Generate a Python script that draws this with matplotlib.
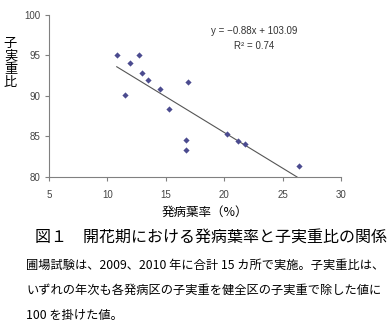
import matplotlib
matplotlib.use('Agg')
import matplotlib.pyplot as plt
import numpy as np

# 発病葉率 (%) and 子実重比
leaf_rate = [10.8, 11.5, 11.9, 12.7, 13.0, 13.5, 14.5, 15.3, 16.7, 16.7, 16.9, 20.2, 21.2, 21.8, 26.4]
yield_ratio = [95.0, 90.1, 94.0, 95.0, 92.8, 92.0, 90.9, 88.4, 84.6, 83.3, 91.7, 85.3, 84.4, 84.1, 81.4]
slope, intercept, r2 = -0.88, 103.09, 0.74

x_ticks = [5, 10, 15, 20, 25, 30]
y_ticks = [80, 85, 90, 95, 100]

jp = ['Noto Sans CJK JP', 'DejaVu Sans']
plt.rcParams['font.family'] = ['Liberation Sans', 'DejaVu Sans']

fig = plt.figure(figsize=(3.91, 3.31), dpi=100)
ax = fig.add_axes([49 / 391, 1 - 177 / 331, 292 / 391, 162.3 / 331])

ax.scatter(leaf_rate, yield_ratio, marker='D', s=10, color='#4b4b8f', zorder=3, linewidths=0)

x_end = (80 - intercept) / slope
xs = np.array([min(leaf_rate), x_end])
ax.plot(xs, slope * xs + intercept, color='#555555', lw=0.8)

ax.set_xlim(5, 30)
ax.set_ylim(80, 100)
ax.set_xticks(x_ticks)
ax.set_yticks(y_ticks)
for s in ['top', 'right']:
    ax.spines[s].set_visible(False)
for s in ['left', 'bottom']:
    ax.spines[s].set_color('#808080')
    ax.spines[s].set_linewidth(0.8)
ax.tick_params(colors='#808080', labelcolor='#444444', labelsize=7, length=3, width=0.8)
ax.tick_params(axis='x', pad=6)

ax.text(22.6, 98.0, 'y = \u22120.88x + 103.09', ha='center', va='center', fontsize=7, color='#333333')
ax.text(22.6, 96.2, 'R\u00b2 = %.2f' % r2, ha='center', va='center', fontsize=7, color='#333333')

fig.text(10.5 / 391, 1 - 63 / 331, '子\n実\n重\n比', ha='center', va='center', fontsize=9.5,
         family=jp, linespacing=1.0)
fig.text(205 / 391, 1 - 212 / 331, '発病葉率（%）', ha='center', va='center', fontsize=9, family=jp)
fig.text(35 / 391, 1 - 237 / 331, '図１　開花期における発病葉率と子実重比の関係', ha='left', va='center',
         fontsize=11.5, family=jp)
notes = ['圃場試験は、2009、2010 年に合計 15 カ所で実施。子実重比は、',
         'いずれの年次も各発病区の子実重を健全区の子実重で除した値に',
         '100 を掛けた値。']
for i, line in enumerate(notes):
    fig.text(26 / 391, 1 - (265.5 + 24.8 * i) / 331, line, ha='left', va='center', fontsize=8.8, family=jp)

fig.savefig('out.png', dpi=100)
